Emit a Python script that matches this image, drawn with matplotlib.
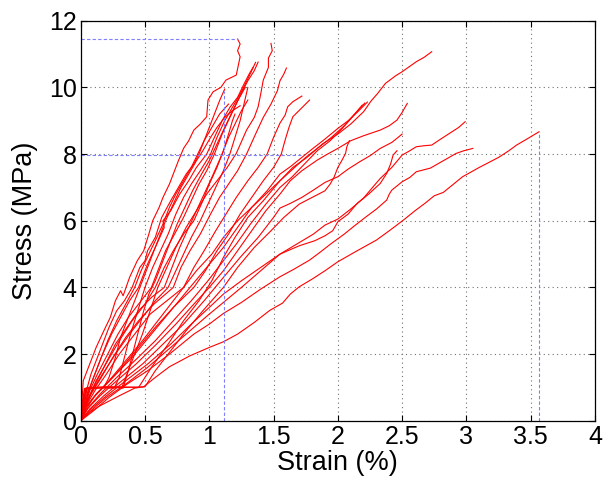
import matplotlib
matplotlib.use("Agg")
import matplotlib.pyplot as plt

plt.rcParams['font.family'] = ['Liberation Sans', 'DejaVu Sans']

# steep group of specimens (strain %, stress MPa)
strain_a01 = [0, 0.01, 0.02, 0.07, 0.12, 0.18, 0.23, 0.27, 0.31, 0.33, 0.38, 0.44, 0.49, 0.53, 0.56, 0.61, 0.64, 0.69, 0.72, 0.76, 0.80, 0.84, 0.88, 0.93, 0.98, 0.99, 1.03, 1.09, 1.13, 1.21, 1.24, 1.22, 1.24, 1.22]
stress_a01 = [0, 0.6, 1.2, 1.7, 2.2, 2.7, 3.1, 3.6, 3.9, 3.75, 4.3, 4.8, 5.1, 5.6, 6.0, 6.4, 6.7, 7.1, 7.4, 7.8, 8.17, 8.4, 8.72, 8.9, 9.12, 9.62, 9.87, 10.0, 10.22, 10.37, 10.92, 11.1, 11.3, 11.45]
strain_a02 = [0, 0.03, 0.08, 0.15, 0.22, 0.28, 0.34, 0.40, 0.46, 0.50, 0.52, 0.58, 0.63, 0.70, 0.76, 0.82, 0.88, 0.92, 0.97, 1.01, 1.05, 1.08, 1.12]
stress_a02 = [0, 0.7, 1.4, 2.1, 2.8, 3.3, 3.6, 4.0, 4.6, 4.8, 5.1, 5.5, 6.1, 6.6, 7.0, 7.4, 7.7, 8.0, 8.5, 8.9, 9.3, 9.6, 9.95]
strain_a03 = [0, 0.04, 0.09, 0.16, 0.24, 0.31, 0.38, 0.45, 0.52, 0.58, 0.65, 0.64, 0.70, 0.77, 0.84, 0.90, 0.98, 1.04, 1.10, 1.16, 1.22, 1.27, 1.31, 1.34]
stress_a03 = [0, 0.6, 1.2, 1.9, 2.6, 3.1, 3.6, 4.0, 4.7, 5.2, 5.8, 6.0, 6.3, 6.8, 7.2, 7.6, 8.0, 8.5, 9.0, 9.4, 9.7, 10.1, 10.4, 10.6]
strain_a04 = [0, 0.01, 0.03, 0.15, 0.26, 0.30, 0.34, 0.38, 0.42, 0.46, 0.50, 0.56, 0.62, 0.68, 0.74, 0.80, 0.86, 0.93, 1.01, 1.06, 1.12, 1.18, 1.24, 1.28, 1.33, 1.36]
stress_a04 = [0, 0.5, 0.95, 1.0, 0.98, 1.3, 1.9, 2.5, 3.0, 3.5, 4.0, 4.6, 5.1, 5.6, 6.2, 6.7, 7.1, 7.5, 8.0, 8.5, 9.0, 9.4, 9.8, 10.1, 10.5, 10.75]
strain_a05 = [0, 0.03, 0.07, 0.13, 0.21, 0.29, 0.37, 0.45, 0.55, 0.61, 0.66, 0.73, 0.80, 0.86, 0.92, 0.98, 1.04, 1.10, 1.16, 1.21, 1.26, 1.30, 1.35, 1.38]
stress_a05 = [0, 0.4, 0.9, 1.4, 2.0, 2.6, 3.1, 3.5, 4.0, 4.6, 5.1, 5.6, 6.1, 6.6, 7.1, 7.5, 8.0, 8.6, 9.1, 9.5, 9.9, 10.2, 10.5, 10.76]
strain_a06 = [0, 0.02, 0.04, 0.20, 0.32, 0.36, 0.42, 0.48, 0.54, 0.60, 0.67, 0.74, 0.82, 0.90, 0.98, 1.06, 1.14, 1.21, 1.29, 1.35, 1.38, 1.40, 1.42, 1.46, 1.46, 1.49, 1.48]
stress_a06 = [0, 0.5, 0.97, 1.02, 1.0, 1.4, 2.0, 2.6, 3.3, 4.0, 4.6, 5.2, 5.8, 6.3, 6.8, 7.2, 7.6, 8.02, 8.72, 9.1, 9.42, 9.8, 10.22, 10.6, 10.88, 11.1, 11.32]
strain_a07 = [0, 0.04, 0.10, 0.18, 0.27, 0.36, 0.45, 0.55, 0.65, 0.71, 0.77, 0.84, 0.90, 0.96, 1.02, 1.10, 1.15, 1.20, 1.25, 1.30]
stress_a07 = [0, 0.5, 1.0, 1.6, 2.3, 2.8, 3.3, 3.7, 4.0, 4.6, 5.2, 5.8, 6.3, 6.8, 7.3, 8.0, 8.5, 8.9, 9.3, 9.62]
strain_a08 = [0, 0.03, 0.08, 0.16, 0.25, 0.35, 0.45, 0.57, 0.66, 0.72, 0.78, 0.85, 0.93, 1.01, 1.08, 1.15, 1.22, 1.29, 1.36, 1.42, 1.48, 1.53, 1.55, 1.58, 1.60]
stress_a08 = [0, 0.4, 0.8, 1.3, 1.9, 2.5, 3.0, 3.5, 3.8, 4.0, 4.6, 5.1, 5.6, 6.2, 6.7, 7.1, 7.5, 8.0, 8.6, 9.1, 9.5, 9.9, 10.2, 10.4, 10.58]
strain_a09 = [0, 0.05, 0.11, 0.20, 0.30, 0.42, 0.54, 0.67, 0.80, 0.88, 0.96, 1.05, 1.13, 1.21, 1.30, 1.38, 1.45, 1.50, 1.55, 1.59, 1.61, 1.65, 1.72]
stress_a09 = [0, 0.5, 0.9, 1.4, 2.0, 2.6, 3.2, 3.6, 4.0, 4.6, 5.1, 5.7, 6.2, 6.7, 7.2, 7.6, 8.0, 8.5, 8.93, 9.17, 9.42, 9.57, 9.74]
strain_a10 = [0, 0.04, 0.10, 0.20, 0.32, 0.45, 0.58, 0.72, 0.88, 0.97, 1.06, 1.15, 1.24, 1.33, 1.42, 1.50, 1.56, 1.59, 1.62, 1.65, 1.71, 1.78]
stress_a10 = [0, 0.4, 0.7, 1.1, 1.6, 2.2, 2.8, 3.4, 4.0, 4.5, 5.1, 5.6, 6.2, 6.7, 7.2, 7.6, 8.0, 8.42, 8.8, 9.12, 9.35, 9.62]
strain_a11 = [0, 0.02, 0.03, 0.18, 0.22, 0.27, 0.31, 0.36, 0.41, 0.46, 0.52, 0.57, 0.62, 0.66, 0.72, 0.78, 0.84, 0.90, 0.95, 1.01, 1.06, 1.12, 1.18, 1.24]
stress_a11 = [0, 0.6, 0.97, 1.0, 1.3, 1.9, 2.5, 3.0, 3.5, 4.0, 4.6, 5.1, 5.6, 6.0, 6.5, 7.0, 7.4, 7.8, 8.1, 8.5, 8.8, 9.1, 9.3, 9.45]
strain_a12 = [0, 0.05, 0.12, 0.21, 0.30, 0.40, 0.50, 0.58, 0.65, 0.72, 0.80, 0.88, 0.95, 1.00, 1.06, 1.11, 1.15, 1.18, 1.20]
stress_a12 = [0, 0.6, 1.2, 1.8, 2.4, 3.0, 3.5, 4.0, 4.6, 5.1, 5.6, 6.0, 6.6, 7.1, 7.6, 8.1, 8.6, 9.0, 9.2]
strain_a13 = [0, 0.02, 0.04, 0.28, 0.33, 0.37, 0.41, 0.45, 0.49, 0.53, 0.58, 0.64, 0.70, 0.75, 0.81, 0.87, 0.94, 1.00, 1.06, 1.12, 1.17, 1.22, 1.28]
stress_a13 = [0, 0.5, 0.98, 1.0, 0.98, 1.5, 2.1, 2.7, 3.3, 3.8, 4.2, 4.8, 5.4, 5.9, 6.4, 6.9, 7.4, 7.8, 8.3, 8.8, 9.2, 9.6, 10.0]
strain_a14 = [0, 0.03, 0.08, 0.14, 0.21, 0.28, 0.35, 0.42, 0.47, 0.53, 0.58, 0.64, 0.69, 0.74, 0.80, 0.86, 0.91, 0.96, 1.02, 1.08, 1.15]
stress_a14 = [0, 0.6, 1.1, 1.7, 2.4, 3.0, 3.5, 4.0, 4.5, 5.0, 5.4, 5.9, 6.4, 6.8, 7.2, 7.6, 8.0, 8.4, 8.8, 9.2, 9.5]
strain_a15 = [0, 0.04, 0.09, 0.17, 0.27, 0.38, 0.48, 0.58, 0.68, 0.74, 0.80, 0.86, 0.93, 0.99, 1.05, 1.11, 1.16, 1.20, 1.24, 1.27, 1.30]
stress_a15 = [0, 0.45, 0.9, 1.4, 2.0, 2.6, 3.1, 3.6, 4.0, 4.5, 5.0, 5.5, 6.0, 6.5, 7.0, 7.5, 8.0, 8.5, 9.0, 9.5, 10.0]

# compliant group of specimens
strain_b01 = [0, 0.05, 0.12, 0.22, 0.35, 0.48, 0.62, 0.76, 0.90, 1.02, 1.11, 1.22, 1.33, 1.44, 1.55, 1.65, 1.76, 1.88, 2.0, 2.1, 2.2, 2.26, 2.31, 2.37, 2.45, 2.5, 2.61, 2.67, 2.73]
stress_b01 = [0, 0.4, 0.8, 1.2, 1.8, 2.4, 3.1, 3.8, 4.5, 5.0, 5.5, 6.0, 6.4, 6.8, 7.2, 7.6, 7.9, 8.3, 8.6, 8.9, 9.27, 9.6, 9.82, 10.12, 10.35, 10.47, 10.77, 10.9, 11.07]
strain_b02 = [0, 0.04, 0.12, 0.25, 0.40, 0.55, 0.70, 0.85, 0.98, 1.11, 1.22, 1.33, 1.45, 1.55, 1.63, 1.72, 1.80, 1.89, 2.0, 2.08, 2.15, 2.23]
stress_b02 = [0, 0.4, 0.8, 1.3, 1.9, 2.6, 3.3, 4.0, 4.6, 5.2, 5.8, 6.4, 6.9, 7.4, 7.62, 7.9, 8.15, 8.42, 8.77, 9.0, 9.25, 9.56]
strain_b03 = [0, 0.03, 0.05, 0.30, 0.45, 0.55, 0.68, 0.80, 0.92, 1.02, 1.11, 1.20, 1.30, 1.42, 1.55, 1.65, 1.75, 1.85, 1.95, 2.05, 2.13, 2.21]
stress_b03 = [0, 0.5, 1.0, 1.02, 1.0, 1.6, 2.3, 3.0, 3.6, 4.2, 4.9, 5.5, 6.1, 6.6, 7.2, 7.55, 7.9, 8.2, 8.5, 8.85, 9.2, 9.53]
strain_b04 = [0, 0.06, 0.15, 0.28, 0.42, 0.58, 0.72, 0.86, 0.99, 1.11, 1.21, 1.32, 1.44, 1.55, 1.64, 1.74, 1.84, 1.94, 2.03, 2.11, 2.19]
stress_b04 = [0, 0.4, 0.8, 1.3, 1.8, 2.4, 3.0, 3.6, 4.2, 4.8, 5.3, 5.9, 6.5, 7.0, 7.3, 7.7, 8.1, 8.4, 8.75, 9.1, 9.47]
strain_b05 = [0, 0.05, 0.15, 0.28, 0.43, 0.59, 0.74, 0.88, 1.0, 1.11, 1.22, 1.33, 1.44, 1.55, 1.63, 1.72, 1.84, 1.92, 2.0, 2.1, 2.2, 2.33, 2.40, 2.46, 2.50, 2.54]
stress_b05 = [0, 0.35, 0.75, 1.2, 1.7, 2.3, 2.9, 3.5, 4.0, 4.5, 5.1, 5.7, 6.3, 6.8, 7.2, 7.5, 7.82, 8.0, 8.17, 8.4, 8.55, 8.72, 8.85, 9.02, 9.25, 9.52]
strain_b06 = [0, 0.07, 0.18, 0.32, 0.48, 0.64, 0.80, 0.96, 1.11, 1.24, 1.38, 1.50, 1.55, 1.63, 1.72, 1.81, 1.90, 2.0, 2.08, 2.17, 2.25, 2.33, 2.42, 2.50]
stress_b06 = [0, 0.35, 0.75, 1.2, 1.7, 2.3, 2.9, 3.6, 4.3, 4.9, 5.5, 6.1, 6.38, 6.52, 6.7, 6.92, 7.15, 7.32, 7.55, 7.77, 7.95, 8.17, 8.35, 8.6]
strain_b07 = [0, 0.08, 0.20, 0.35, 0.52, 0.70, 0.86, 1.0, 1.11, 1.25, 1.40, 1.55, 1.70, 1.82, 1.90, 1.96, 2.0, 2.08, 2.15, 2.24, 2.33, 2.36, 2.38, 2.41, 2.43, 2.46]
stress_b07 = [0, 0.35, 0.75, 1.2, 1.7, 2.3, 2.9, 3.4, 3.8, 4.2, 4.6, 5.0, 5.25, 5.4, 5.55, 5.7, 5.97, 6.2, 6.52, 6.8, 7.12, 7.3, 7.42, 7.7, 7.97, 8.1]
strain_b08 = [0, 0.04, 0.06, 0.35, 0.50, 0.58, 0.70, 0.82, 0.95, 1.11, 1.22, 1.35, 1.48, 1.58, 1.70, 1.80, 1.90, 1.94, 1.97, 2.0, 2.03, 2.06, 2.07, 2.09]
stress_b08 = [0, 0.5, 0.98, 1.0, 1.02, 1.5, 2.1, 2.7, 3.3, 4.0, 4.6, 5.2, 5.7, 6.1, 6.5, 6.7, 6.9, 7.1, 7.3, 7.6, 7.8, 8.02, 8.22, 8.4]
strain_b09 = [0, 0.08, 0.20, 0.35, 0.52, 0.70, 0.88, 1.0, 1.11, 1.25, 1.40, 1.55, 1.68, 1.81, 1.90, 2.0, 2.10, 2.20, 2.27, 2.33, 2.42, 2.50, 2.56, 2.61, 2.67, 2.73, 2.80, 2.88, 2.94, 2.99]
stress_b09 = [0, 0.3, 0.7, 1.1, 1.6, 2.2, 2.8, 3.2, 3.55, 4.0, 4.5, 5.0, 5.3, 5.6, 5.87, 6.05, 6.35, 6.68, 7.0, 7.27, 7.6, 7.97, 8.1, 8.22, 8.25, 8.27, 8.45, 8.65, 8.8, 8.97]
strain_b10 = [0, 0.10, 0.22, 0.36, 0.52, 0.69, 0.88, 1.0, 1.11, 1.25, 1.40, 1.55, 1.66, 1.78, 1.86, 1.95, 2.05, 2.13, 2.22, 2.30, 2.38, 2.40, 2.42, 2.50, 2.56, 2.61, 2.72, 2.82, 2.92, 2.98, 3.05]
stress_b10 = [0, 0.3, 0.7, 1.1, 1.5, 2.0, 2.6, 2.9, 3.22, 3.55, 3.95, 4.32, 4.55, 4.82, 5.05, 5.32, 5.6, 5.85, 6.12, 6.35, 6.62, 6.8, 6.92, 7.17, 7.3, 7.47, 7.58, 7.8, 8.02, 8.1, 8.17]
strain_b11 = [0, 0.05, 0.15, 0.30, 0.42, 0.49, 0.58, 0.69, 0.85, 1.0, 1.11, 1.22, 1.35, 1.47, 1.57, 1.63, 1.70, 1.80, 1.90, 2.0, 2.15, 2.30, 2.40, 2.51, 2.60, 2.68, 2.75, 2.82, 2.90, 2.97, 3.10, 3.25, 3.33, 3.39, 3.47, 3.565]
stress_b11 = [0, 0.2, 0.45, 0.75, 0.98, 1.02, 1.3, 1.62, 1.95, 2.2, 2.37, 2.6, 2.95, 3.31, 3.53, 3.8, 4.02, 4.25, 4.5, 4.77, 5.1, 5.42, 5.7, 6.02, 6.3, 6.53, 6.75, 6.85, 7.1, 7.32, 7.6, 7.9, 8.1, 8.27, 8.45, 8.67]

# dashed reference lines: max stress, lower stress, two strain markers
ref_stress_hi = 11.45
ref_stress_hi_end = 1.22
ref_stress_lo = 7.97
ref_stress_lo_end = 1.73
ref_strain_lo = 1.115
ref_strain_lo_top = 9.9
ref_strain_hi = 3.565
ref_strain_hi_top = 8.67

x_ticks = [0, 0.5, 1, 1.5, 2, 2.5, 3, 3.5, 4]
x_tick_labels = ['0', '0.5', '1', '1.5', '2', '2.5', '3', '3.5', '4']
y_ticks = [0, 2, 4, 6, 8, 10, 12]

curves = [
    (strain_a01, stress_a01), (strain_a02, stress_a02), (strain_a03, stress_a03),
    (strain_a04, stress_a04), (strain_a05, stress_a05), (strain_a06, stress_a06),
    (strain_a07, stress_a07), (strain_a08, stress_a08), (strain_a09, stress_a09),
    (strain_a10, stress_a10), (strain_a11, stress_a11), (strain_a12, stress_a12),
    (strain_a13, stress_a13), (strain_a14, stress_a14), (strain_a15, stress_a15),
    (strain_b01, stress_b01), (strain_b02, stress_b02), (strain_b03, stress_b03),
    (strain_b04, stress_b04), (strain_b05, stress_b05), (strain_b06, stress_b06),
    (strain_b07, stress_b07), (strain_b08, stress_b08), (strain_b09, stress_b09),
    (strain_b10, stress_b10), (strain_b11, stress_b11),
]

fig = plt.figure(figsize=(6.09, 4.82), dpi=100)
ax = fig.add_axes([0.1325, 0.127, 0.8445, 0.830])

for x, y in curves:
    ax.plot(x, y, color='#ff0000', lw=0.8)

blue = '#7f7fff'
dash = (0, (3, 2))
ax.plot([0, ref_stress_hi_end], [ref_stress_hi, ref_stress_hi], color=blue, lw=0.8, ls=dash)
ax.plot([0, ref_stress_lo_end], [ref_stress_lo, ref_stress_lo], color=blue, lw=0.8, ls=dash)
ax.plot([ref_strain_lo, ref_strain_lo], [0, ref_strain_lo_top], color=blue, lw=0.8, ls=dash)
ax.plot([ref_strain_hi, ref_strain_hi], [0, ref_strain_hi_top], color=blue, lw=0.8, ls=dash)

ax.set_xlim(0, 4)
ax.set_ylim(0, 12)
ax.set_xticks(x_ticks)
ax.set_xticklabels(x_tick_labels)
ax.set_yticks(y_ticks)
ax.grid(True, color='0.45', ls=(0, (1, 3)), lw=0.8)
ax.tick_params(direction='in', top=True, right=True, length=4, width=0.8,
               labelsize=18, pad=3)
for sp in ax.spines.values():
    sp.set_linewidth(0.9)

ax.set_xlabel('Strain (%)', fontsize=19.5, labelpad=1)
ax.set_ylabel('Stress (MPa)', fontsize=19.5, labelpad=8)

fig.savefig('out.png', dpi=100)
